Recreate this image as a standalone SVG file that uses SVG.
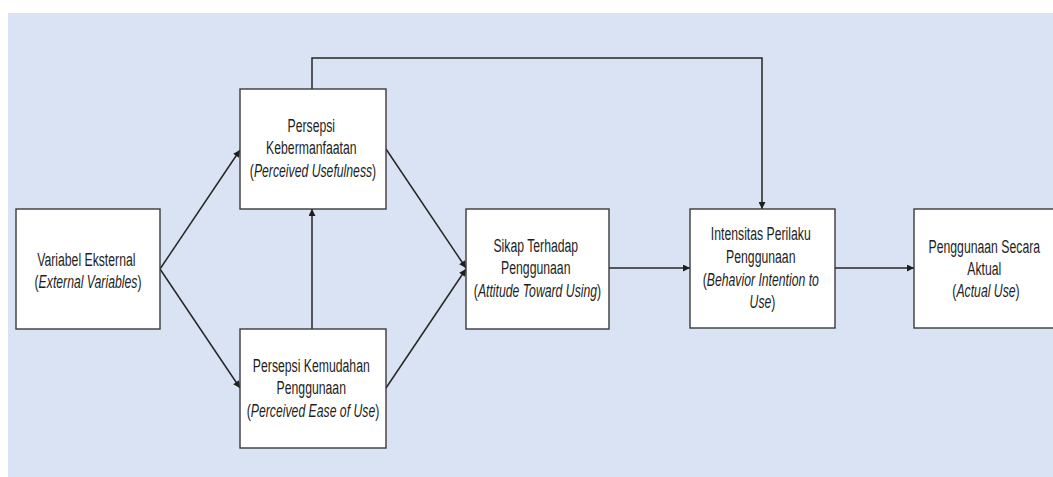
<svg xmlns="http://www.w3.org/2000/svg" width="1053" height="477" viewBox="0 0 1053 477">
  <defs>
    <marker id="arrow" viewBox="0 0 10 10" refX="10" refY="5" markerWidth="9" markerHeight="7" markerUnits="userSpaceOnUse" orient="auto">
      <path d="M0,0 L10,5 L0,10 z" fill="#1e1e1e"/>
    </marker>
    <style>
      .box { fill: #ffffff; stroke: #3a3a3a; stroke-width: 1.4; }
      .lbl { font-family: "Liberation Sans", Arial, sans-serif; font-size: 18px; fill: #1e1e1e; text-anchor: middle; }
      .it { font-style: italic; }
      .conn { fill: none; stroke: #262626; stroke-width: 1.5; }
    </style>
  </defs>

  <!-- canvas background -->
  <rect x="8" y="13" width="1045" height="464" fill="#dae3f3"/>

  <!-- connectors -->
  <g id="connectors">
    <line class="conn" x1="160" y1="269" x2="240" y2="150" marker-end="url(#arrow)"/>
    <line class="conn" x1="160" y1="269" x2="240" y2="388" marker-end="url(#arrow)"/>
    <line class="conn" x1="312" y1="329" x2="312" y2="209" marker-end="url(#arrow)"/>
    <line class="conn" x1="386" y1="149" x2="466" y2="268" marker-end="url(#arrow)"/>
    <line class="conn" x1="386" y1="388" x2="466" y2="269" marker-end="url(#arrow)"/>
    <polyline class="conn" points="312,89 312,58 762,58 762,209" marker-end="url(#arrow)"/>
    <line class="conn" x1="609" y1="268" x2="690" y2="268" marker-end="url(#arrow)"/>
    <line class="conn" x1="835" y1="268" x2="914" y2="268" marker-end="url(#arrow)"/>
  </g>

  <!-- External Variables -->
  <g id="external-variables">
    <rect class="box" x="16" y="209" width="144" height="120"/>
    <text class="lbl" transform="translate(88,0) scale(0.68,1)">
      <tspan x="0" y="266">Variabel Eksternal</tspan>
      <tspan x="0" y="288">(<tspan class="it">External Variables</tspan>)</tspan>
    </text>
  </g>

  <!-- Perceived Usefulness -->
  <g id="perceived-usefulness">
    <rect class="box" x="240" y="89" width="146" height="120"/>
    <text class="lbl" transform="translate(313,0) scale(0.68,1)">
      <tspan x="0" y="132">Persepsi</tspan>
      <tspan x="0" y="154.5">Kebermanfaatan</tspan>
      <tspan x="0" y="177">(<tspan class="it">Perceived Usefulness</tspan>)</tspan>
    </text>
  </g>

  <!-- Perceived Ease of Use -->
  <g id="perceived-ease-of-use">
    <rect class="box" x="240" y="329" width="146" height="119"/>
    <text class="lbl" transform="translate(313,0) scale(0.68,1)">
      <tspan x="0" y="372">Persepsi Kemudahan</tspan>
      <tspan x="0" y="394.5">Penggunaan</tspan>
      <tspan x="0" y="417">(<tspan class="it">Perceived Ease of Use</tspan>)</tspan>
    </text>
  </g>

  <!-- Attitude Toward Using -->
  <g id="attitude-toward-using">
    <rect class="box" x="466" y="209" width="143" height="120"/>
    <text class="lbl" transform="translate(537.5,0) scale(0.68,1)">
      <tspan x="0" y="252">Sikap Terhadap</tspan>
      <tspan x="0" y="274.5">Penggunaan</tspan>
      <tspan x="0" y="297">(<tspan class="it">Attitude Toward Using</tspan>)</tspan>
    </text>
  </g>

  <!-- Behavior Intention to Use -->
  <g id="behavior-intention">
    <rect class="box" x="690" y="209" width="145" height="119"/>
    <text class="lbl" transform="translate(762.5,0) scale(0.68,1)">
      <tspan x="0" y="240.5">Intensitas Perilaku</tspan>
      <tspan x="0" y="263">Penggunaan</tspan>
      <tspan x="0" y="286">(<tspan class="it">Behavior Intention to</tspan></tspan>
      <tspan x="0" y="308.5"><tspan class="it">Use</tspan>)</tspan>
    </text>
  </g>

  <!-- Actual Use -->
  <g id="actual-use">
    <rect class="box" x="914" y="209" width="145" height="119"/>
    <text class="lbl" transform="translate(986,0) scale(0.68,1)">
      <tspan x="0" y="253">Penggunaan Secara</tspan>
      <tspan x="0" y="275.5">Aktual</tspan>
      <tspan x="0" y="297">(<tspan class="it">Actual Use</tspan>)</tspan>
    </text>
  </g>
</svg>
